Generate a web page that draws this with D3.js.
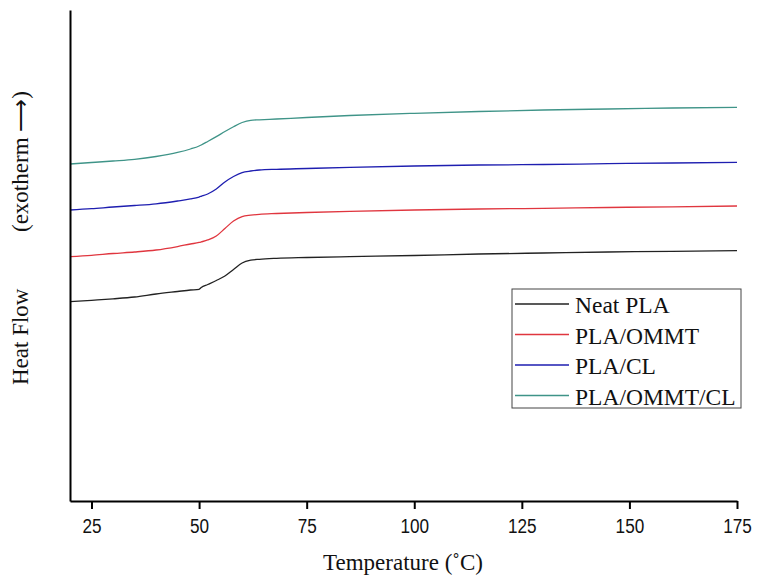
<!DOCTYPE html>
<html>
<head>
<meta charset="utf-8">
<script src="https://cdn.jsdelivr.net/npm/d3@7"></script>
<style>
  html, body { margin: 0; padding: 0; background: #fff; }
  svg { display: block; }
</style>
</head>
<body>
<svg id="chart" width="758" height="579"></svg>
<script>
// DSC heating scans around the PLA glass transition (heat flow in arbitrary units, exotherm up)
const temperature = [20, 25, 30, 35, 40, 45, 48, 50, 50.5, 52, 54, 56, 58, 60, 62, 64, 68, 75, 85, 100, 115, 130, 145, 160, 175];

const neatPLA = [40.59, 40.88, 41.18, 41.55, 42.16, 42.67, 42.97, 43.12, 43.48, 44.09, 44.91, 45.82, 47.15, 48.47, 49.04, 49.23, 49.43, 49.59, 49.76, 50.00, 50.31, 50.51, 50.71, 50.86, 50.98];
const plaOMMT = [49.76, 50.04, 50.41, 50.71, 51.12, 51.83, 52.34, 52.65, 52.77, 53.16, 53.97, 55.50, 57.03, 57.94, 58.21, 58.39, 58.55, 58.76, 59.00, 59.27, 59.47, 59.61, 59.78, 59.92, 60.08];
const plaCL = [59.27, 59.53, 59.88, 60.18, 60.53, 61.10, 61.51, 61.91, 62.06, 62.53, 63.54, 64.97, 66.09, 66.90, 67.21, 67.41, 67.56, 67.72, 67.96, 68.23, 68.43, 68.53, 68.70, 68.84, 68.98];
const plaOMMTCL = [68.64, 68.94, 69.25, 69.59, 70.16, 70.98, 71.69, 72.30, 72.51, 73.22, 74.20, 75.25, 76.23, 77.09, 77.54, 77.64, 77.80, 78.11, 78.51, 78.96, 79.33, 79.63, 79.84, 80.04, 80.18];

const seriesNames = ["Neat PLA", "PLA/OMMT", "PLA/CL", "PLA/OMMT/CL"];
const seriesColors = ["#222222", "#e0363f", "#1e1eb0", "#3f9488"];
const xTicks = [25, 50, 75, 100, 125, 150, 175];

const series = [neatPLA, plaOMMT, plaCL, plaOMMTCL].map((vals, i) => ({
  name: seriesNames[i],
  color: seriesColors[i],
  points: vals.map((v, j) => ({ t: temperature[j], v }))
}));

const svg = d3.select("#chart");
const serif = "'Liberation Serif', 'Times New Roman', serif";
const sans = "'Liberation Sans', Arial, sans-serif";

const x = d3.scaleLinear().domain([20, 175]).range([70, 737]);
const y = d3.scaleLinear().domain([0, 100]).range([501, 10]);

// curves
const line = d3.line()
  .x(d => x(d.t))
  .y(d => y(d.v))
  .curve(d3.curveMonotoneX);

svg.append("g")
  .selectAll("path")
  .data(series)
  .join("path")
  .attr("d", d => line(d.points))
  .attr("fill", "none")
  .attr("stroke", d => d.color)
  .attr("stroke-width", 1.3);

// axes
const xAxis = svg.append("g")
  .attr("transform", `translate(0,${y(0)})`)
  .call(d3.axisBottom(x).tickValues(xTicks).tickSize(8).tickSizeOuter(0));
xAxis.select(".domain").attr("stroke", "#000").attr("stroke-width", 2);
xAxis.selectAll(".tick line").attr("stroke", "#000").attr("stroke-width", 2);
xAxis.selectAll(".tick text")
  .attr("y", 32)
  .attr("dy", 0)
  .attr("transform", "scale(0.88,1)")
  .attr("font-family", sans)
  .attr("font-size", 19.5)
  .attr("fill", "#111");

const yAxis = svg.append("g")
  .attr("transform", `translate(${x(20)},0)`)
  .call(d3.axisLeft(y).tickValues([]).tickSizeOuter(0));
yAxis.select(".domain").attr("stroke", "#000").attr("stroke-width", 2);

// axis titles
svg.append("text")
  .attr("x", 403)
  .attr("y", 570)
  .attr("text-anchor", "middle")
  .attr("font-family", serif)
  .attr("font-size", 23)
  .attr("fill", "#111")
  .text("Temperature (˚C)");

svg.append("text")
  .attr("transform", "translate(28,385) rotate(-90)")
  .attr("text-anchor", "start")
  .attr("font-family", serif)
  .attr("font-size", 23)
  .attr("fill", "#111")
  .text("Heat Flow");

svg.append("text")
  .attr("transform", "translate(28,232) rotate(-90)")
  .attr("text-anchor", "start")
  .attr("font-family", serif)
  .attr("font-size", 23)
  .attr("fill", "#111")
  .text("(exotherm ⟶)");

// legend
const legend = svg.append("g").attr("transform", "translate(512,289)");
legend.append("rect")
  .attr("width", 229)
  .attr("height", 119)
  .attr("fill", "#fff")
  .attr("stroke", "#444")
  .attr("stroke-width", 1);

const rows = legend.selectAll("g.row")
  .data(series)
  .join("g")
  .attr("class", "row")
  .attr("transform", (d, i) => `translate(0,${15 + i * 30.5})`);
rows.append("line")
  .attr("x1", 3).attr("x2", 57)
  .attr("stroke", d => d.color)
  .attr("stroke-width", 1.3);
rows.append("text")
  .attr("x", 63)
  .attr("y", 9)
  .attr("font-family", serif)
  .attr("font-size", 23.5)
  .attr("fill", "#111")
  .text(d => d.name);
</script>
</body>
</html>
